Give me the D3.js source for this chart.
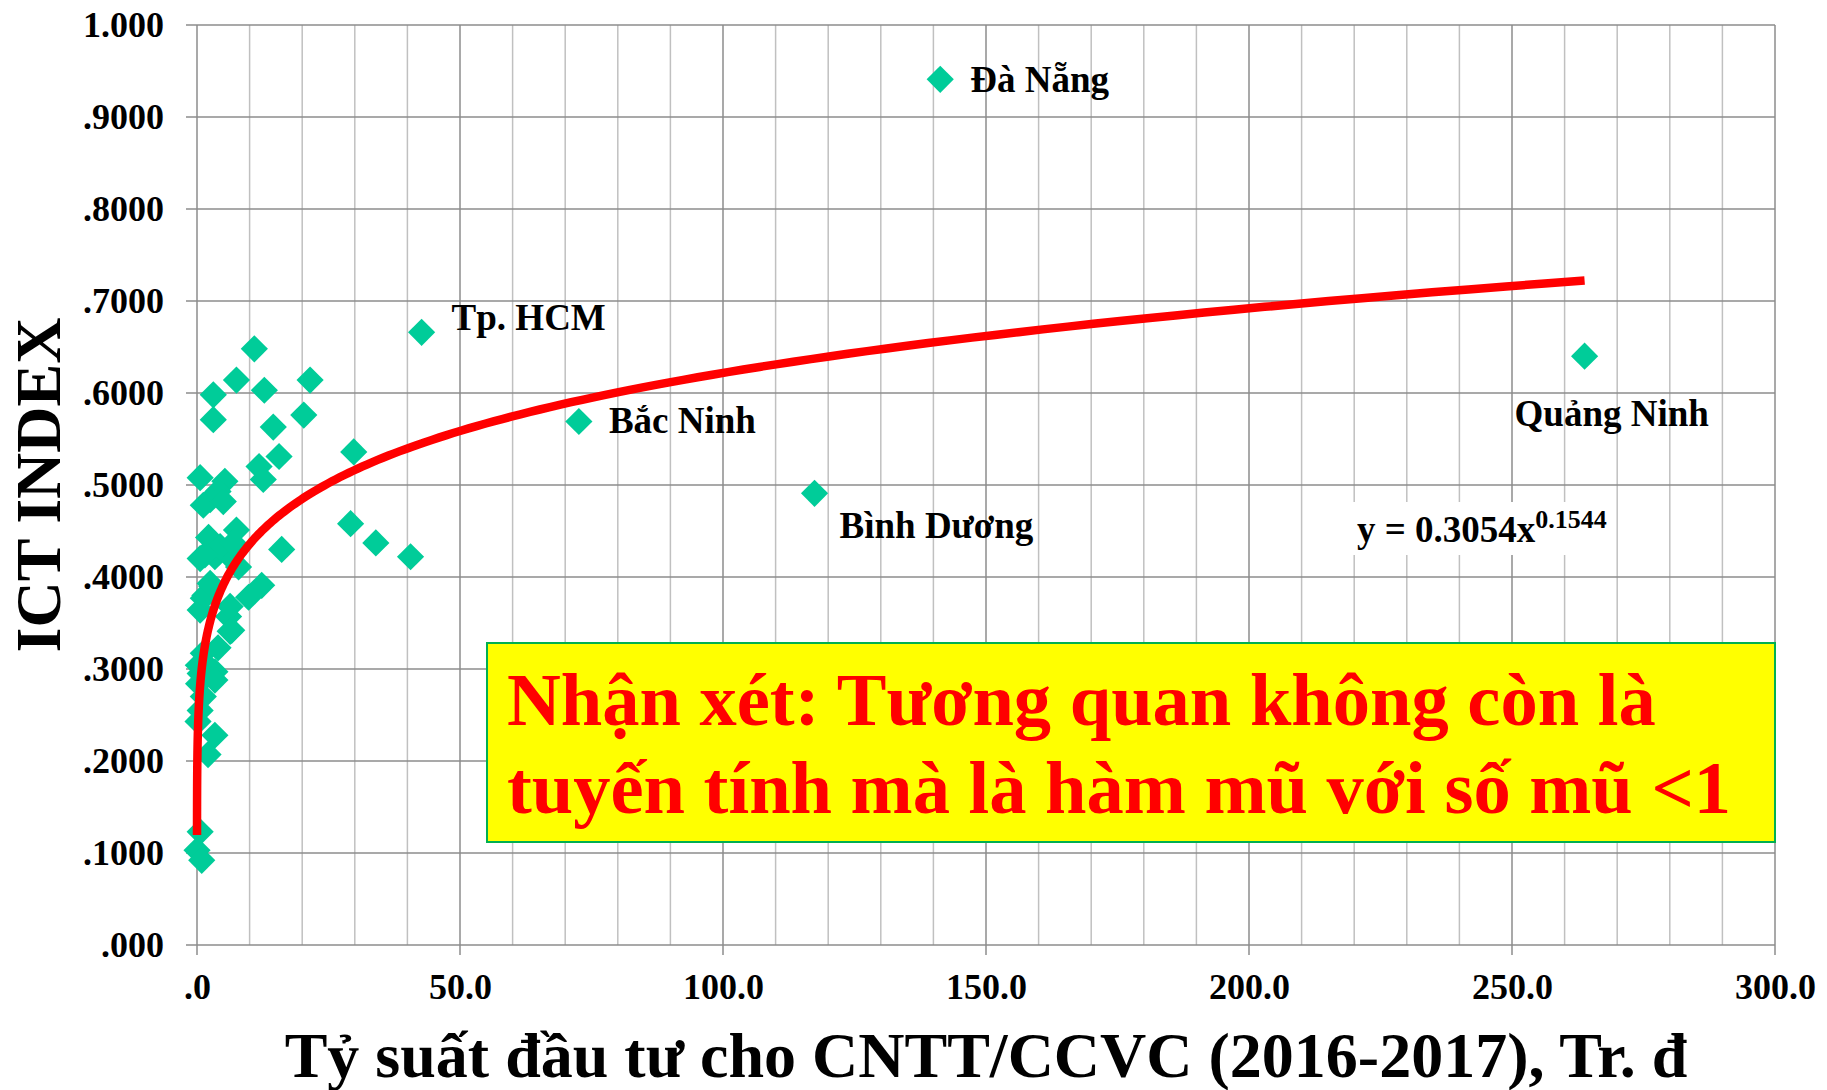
<!DOCTYPE html>
<html>
<head>
<meta charset="utf-8">
<script src="https://cdn.jsdelivr.net/npm/d3@7"></script>
<style>
  body { margin: 0; background: #fff; }
  svg text { font-family: 'Liberation Serif', 'Times New Roman', serif; font-weight: bold; }
</style>
</head>
<body>
<svg id="chart"></svg>
<script>
// provinces with a name on the chart
const namedProvinces = ['Đà Nẵng', 'Tp. HCM', 'Bắc Ninh', 'Bình Dương', 'Quảng Ninh'];
const namedInvest = [141.3, 42.7, 72.6, 117.4, 263.8];
const namedIct = [0.941, 0.666, 0.569, 0.491, 0.640];

// the other provinces (no label)
const otherInvest = [
  10.9, 7.5, 3.1, 12.8, 21.5, 3.1, 20.3, 14.5, 29.8, 15.6,
  11.8, 12.6, 0.6, 5.3, 4.0, 2.5, 1.2, 29.2, 34.0, 40.6,
  16.1, 2.2, 7.5, 0.6, 3.4, 5.6, 7.9, 12.3, 9.8, 2.8,
  1.2, 0.6, 6.0, 6.3, 4.0, 1.2, 1.2, 3.4, 0.6, 1.2,
  0.6, 0.2, 3.4, 2.1, 0.6, 0.0023, 0.9, 6.3, 1.5, 2.5,
  0.3, 3.4, 0.25, 4.4, 6.9, 1.5, 6.6, 5.0
];
const otherIct = [
  0.648, 0.614, 0.598, 0.603, 0.614, 0.571, 0.576, 0.563, 0.536, 0.531,
  0.520, 0.506, 0.508, 0.504, 0.493, 0.484, 0.478, 0.458, 0.437, 0.422,
  0.430, 0.443, 0.451, 0.420, 0.422, 0.426, 0.411, 0.391, 0.378, 0.390,
  0.377, 0.364, 0.357, 0.341, 0.323, 0.317, 0.308, 0.297, 0.295, 0.270,
  0.255, 0.243, 0.228, 0.207, 0.123, 0.103, 0.092, 0.368, 0.380, 0.393,
  0.284, 0.288, 0.304, 0.433, 0.437, 0.424, 0.342, 0.482
];

// power trendline shown on the chart
const trendA = 0.3054;
const trendB = 0.1544;

const xTickValues = [0, 50, 100, 150, 200, 250, 300];
const xTickLabels = ['.0', '50.0', '100.0', '150.0', '200.0', '250.0', '300.0'];
const yTickValues = [0, 0.1, 0.2, 0.3, 0.4, 0.5, 0.6, 0.7, 0.8, 0.9, 1.0];
const yTickLabels = ['.000', '.1000', '.2000', '.3000', '.4000', '.5000', '.6000', '.7000', '.8000', '.9000', '1.000'];

const xTitle = 'Tỷ suất đầu tư cho CNTT/CCVC (2016-2017), Tr. đ';
const yTitle = 'ICT INDEX';
const noteLines = ['Nhận xét: Tương quan không còn là', 'tuyến tính mà là hàm mũ với số mũ <1'];

const W = 1827, H = 1090;
const margin = {left: 197, right: 52, top: 25, bottom: 145};

const svg = d3.select('#chart')
  .attr('width', W)
  .attr('height', H);

const x = d3.scaleLinear().domain([0, 300]).range([margin.left, W - margin.right]);
const y = d3.scaleLinear().domain([0, 1]).range([H - margin.bottom, margin.top]);

// minor vertical grid
svg.append('g')
  .selectAll('line')
  .data(d3.range(10, 300, 10).filter(d => d % 50 !== 0))
  .join('line')
  .attr('x1', d => x(d)).attr('x2', d => x(d))
  .attr('y1', y(1)).attr('y2', y(0))
  .style('stroke', '#c0c0c0')
  .style('stroke-width', 1.5);

// major vertical grid
svg.append('g')
  .selectAll('line')
  .data(xTickValues)
  .join('line')
  .attr('x1', d => x(d)).attr('x2', d => x(d))
  .attr('y1', y(1)).attr('y2', y(0) + 10)
  .style('stroke', '#8c8c8c')
  .style('stroke-width', 1.5);

// horizontal grid
svg.append('g')
  .selectAll('line')
  .data(yTickValues)
  .join('line')
  .attr('x1', x(0) - 11).attr('x2', x(300))
  .attr('y1', d => y(d)).attr('y2', d => y(d))
  .style('stroke', '#8c8c8c')
  .style('stroke-width', 1.5);

const yAxis = d3.axisLeft(y)
  .tickValues(yTickValues)
  .tickFormat((d, i) => yTickLabels[i])
  .tickSize(0)
  .tickPadding(33);

const xAxis = d3.axisBottom(x)
  .tickValues(xTickValues)
  .tickFormat((d, i) => xTickLabels[i])
  .tickSize(0)
  .tickPadding(28);

const gy = svg.append('g')
  .attr('transform', `translate(${x(0)},0)`)
  .call(yAxis);
const gx = svg.append('g')
  .attr('transform', `translate(0,${y(0)})`)
  .call(xAxis);

[gx, gy].forEach(g => {
  g.select('.domain').remove();
  g.selectAll('text')
    .style('font-size', '36px')
    .style('fill', '#000');
});

// annotation box
svg.append('rect')
  .attr('x', 487).attr('y', 643)
  .attr('width', x(300) - 487).attr('height', 199)
  .style('fill', '#ffff00')
  .style('stroke', '#00b050')
  .style('stroke-width', 2);

svg.append('g')
  .selectAll('text')
  .data(noteLines)
  .join('text')
  .attr('x', 507)
  .attr('y', (d, i) => 725 + i * 88)
  .style('font-size', '74.5px')
  .style('fill', '#ff0000')
  .text(d => d);

// equation label
svg.append('rect')
  .attr('x', 1345).attr('y', 502)
  .attr('width', 266).attr('height', 53)
  .style('fill', '#fff');

const eq = svg.append('text')
  .attr('x', 1357).attr('y', 542)
  .style('font-size', '37px')
  .style('fill', '#000');
eq.append('tspan').text(`y = ${trendA}x`);
eq.append('tspan')
  .attr('dy', -14)
  .style('font-size', '26px')
  .text(trendB);

// points
const diamond = d3.symbol(d3.symbolSquare, 370);
const allInvest = otherInvest.concat(namedInvest);
const allIct = otherIct.concat(namedIct);

svg.append('g')
  .selectAll('path')
  .data(d3.range(allInvest.length))
  .join('path')
  .attr('d', diamond)
  .attr('transform', i => `translate(${x(allInvest[i])},${y(allIct[i])}) rotate(45)`)
  .style('fill', '#00cc99');

// trendline from min to max x
const xMin = d3.min(allInvest), xMax = d3.max(allInvest);
const trendX = d3.range(0, 401).map(i => xMin * Math.pow(xMax / xMin, i / 400));
const line = d3.line()
  .x(d => x(d))
  .y(d => y(trendA * Math.pow(d, trendB)));

svg.append('path')
  .datum(trendX)
  .attr('d', line)
  .style('fill', 'none')
  .style('stroke', '#ff0000')
  .style('stroke-width', 8.5)
  .style('stroke-linecap', 'butt');

// province labels
const labelOffsets = [[30, 13], [30, -2], [30, 11], [25, 45], [-70, 70]];
svg.append('g')
  .selectAll('text')
  .data(namedProvinces)
  .join('text')
  .attr('x', (d, i) => x(namedInvest[i]) + labelOffsets[i][0])
  .attr('y', (d, i) => y(namedIct[i]) + labelOffsets[i][1])
  .style('font-size', '37px')
  .style('fill', '#000')
  .text(d => d);

// axis titles
svg.append('text')
  .attr('x', (x(0) + x(300)) / 2)
  .attr('y', 1077)
  .attr('text-anchor', 'middle')
  .style('font-size', '64px')
  .text(xTitle);

svg.append('text')
  .attr('transform', `translate(60,${(y(0) + y(1)) / 2}) rotate(-90)`)
  .attr('text-anchor', 'middle')
  .style('font-size', '64px')
  .text(yTitle);
</script>
</body>
</html>
